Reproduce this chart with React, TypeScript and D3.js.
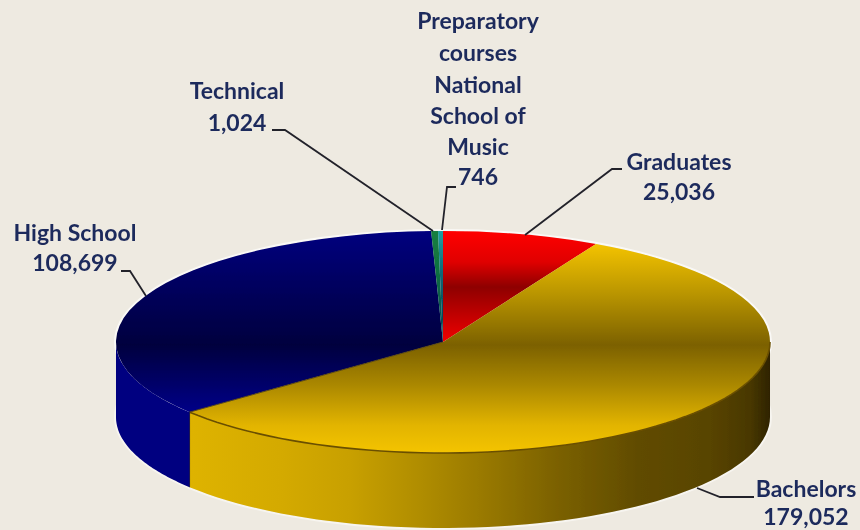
import React from "react";
import * as d3 from "d3";

const categories = ["Graduates", "Bachelors", "High School", "Technical", "Preparatory courses National School of Music"];
const values = [25036, 179052, 108699, 1024, 746];
const tickLabels = ["25,036", "179,052", "108,699", "1,024", "746"];

const W = 860, H = 530, CX = 443, CY = 342, RX = 327, RY = 111, DEPTH = 75;
const INK = "#1d2a5c";
// The reference's 3D tilt foreshortens the angles slightly
const WARP = 0.054;
const warp = (a: number) => a - WARP * Math.sin(a / 2);

const labelLayout = [
  { x: 679, y: [170, 200], lines: ["Graduates", tickLabels[0]], leader: [[525, 235], [612, 169], [622, 169]] },
  { x: 806, y: [497, 525], lines: ["Bachelors", tickLabels[1]], leader: [[697, 488], [720, 497], [754, 497]] },
  { x: 75, y: [241, 271], lines: ["High School", tickLabels[2]], leader: [[146, 296], [130, 271], [121, 271]] },
  { x: 237, y: [99, 131], lines: ["Technical", tickLabels[3]], leader: [[433, 231], [285, 130], [272, 130]] },
  { x: 478, y: [29, 61, 93, 124, 155, 185], lines: ["Preparatory", "courses", "National", "School of", "Music", tickLabels[4]], leader: [[442, 230], [447, 187], [456, 187]] },
];

const faceStops: [number, string][][] = [
  [[231, "#ff0000"], [262, "#e00000"], [287, "#8e0000"], [315, "#c00000"], [342, "#f00000"]],
  [[245, "#f2c200"], [295, "#b89400"], [345, "#7c6100"], [385, "#ab8800"], [425, "#e2b400"], [453, "#f4c400"]],
  [[231, "#00007f"], [290, "#00005c"], [345, "#00003e"], [385, "#00006a"], [420, "#000090"]],
  [[231, "#17803f"], [272, "#0f7040"], [342, "#004058"]],
  [[231, "#20a0a0"], [272, "#0a6a78"], [342, "#003a50"]],
];

const goldWall: [number, string][] = [
  [190, "#deb300"], [280, "#d4aa00"], [350, "#c8a000"], [420, "#b08d00"], [480, "#9a7a00"],
  [560, "#7a6000"], [640, "#604b00"], [710, "#584400"], [750, "#493800"], [770, "#2e2300"],
];

const pieGen = d3.pie<number>().sort(null).startAngle(0).endAngle(2 * Math.PI);
const arcGen = d3.arc<any>().innerRadius(0).outerRadius(RX);

function wallPath(a0: number, a1: number): string | null {
  const lo = Math.max(a0, Math.PI / 2), hi = Math.min(a1, (3 * Math.PI) / 2);
  if (hi <= lo) return null;
  const th = d3.range(0, 61).map((i) => lo + ((hi - lo) * i) / 60);
  const area = d3.area<number>()
    .x((t) => CX + RX * Math.sin(t))
    .y0((t) => CY - RY * Math.cos(t))
    .y1((t) => CY - RY * Math.cos(t) + DEPTH);
  return area(th);
}

function rimLine(a0: number, a1: number): string | null {
  const lo = Math.max(a0, Math.PI / 2), hi = Math.min(a1, (3 * Math.PI) / 2);
  if (hi <= lo) return null;
  const th = d3.range(0, 61).map((i) => lo + ((hi - lo) * i) / 60);
  return d3.line<number>().x((t) => CX + RX * Math.sin(t)).y((t) => CY - RY * Math.cos(t))(th);
}

export default function App() {
  const slices = pieGen(values).map((s) => ({ ...s, startAngle: warp(s.startAngle), endAngle: warp(s.endAngle) }));
  const line = d3.line<number[]>().x((d) => d[0]).y((d) => d[1]);
  const gold = slices[1];
  const rightFront = rimLine(gold.startAngle, gold.endAngle);
  const cutX = CX + RX * Math.sin(gold.endAngle);
  const cutY = CY - RY * Math.cos(gold.endAngle);
  const scaleY = RY / RX;
  return (
    <svg width={W} height={H} viewBox={`0 0 ${W} ${H}`} style={{ position: "absolute", left: 0, top: 0, display: "block" }}>
      <title>{categories.join(", ")}</title>
      <defs>
        <filter id="soft" x="-5%" y="-5%" width="110%" height="110%">
          <feGaussianBlur stdDeviation="0.6" />
        </filter>
        <linearGradient id="goldWall" gradientUnits="userSpaceOnUse" x1={0} x2={W} y1={0} y2={0}>
          {goldWall.map(([x, c]) => <stop key={x} offset={x / W} stopColor={c} />)}
        </linearGradient>
        {slices.map((s, i) => (
          <linearGradient
            key={i}
            id={`face${i}`}
            gradientUnits="userSpaceOnUse"
            gradientTransform={`scale(1,${1 / scaleY}) translate(${-CX},${-CY})`}
            x1={0} x2={0} y1={0} y2={H}
          >
            {faceStops[i].map(([y, c]) => <stop key={y} offset={y / H} stopColor={c} />)}
          </linearGradient>
        ))}
      </defs>
      <rect width={W} height={H} fill="#eeeae1" />
      <g filter="url(#soft)">
        <ellipse cx={CX} cy={CY} rx={RX + 1} ry={RY + 1} fill="none" stroke="#ffffff" strokeWidth={2} opacity={0.7} />
        <ellipse cx={CX} cy={CY + DEPTH} rx={RX + 1} ry={RY + 1} fill="none" stroke="#ffffff" strokeWidth={2} opacity={0.5} />
        {slices.map((s, i) => {
          const d = wallPath(s.startAngle, s.endAngle);
          return d ? <path key={i} d={d} fill={i === 1 ? "url(#goldWall)" : "#000080"} /> : null;
        })}
        {slices.map((s, i) => (
          <path
            key={i}
            d={arcGen(s) as string}
            transform={`translate(${CX},${CY}) scale(1,${scaleY})`}
            fill={`url(#face${i})`}
          />
        ))}
        {rightFront && <path d={rightFront} fill="none" stroke="#6b5000" strokeWidth={1.6} />}
        <path d={`M${CX},${CY}L${cutX},${cutY}`} stroke="#5e4a10" strokeWidth={1} fill="none" />
        <path d={`M${cutX},${cutY}V${cutY + DEPTH}`} stroke="#1a1a50" strokeWidth={1} fill="none" />
        {labelLayout.map((l, i) => (
          <path key={i} d={line(l.leader) as string} fill="none" stroke="#23232b" strokeWidth={1.8} />
        ))}
        {labelLayout.map((l, i) =>
          l.lines.map((t, j) => (
            <text
              key={`${i}-${j}`}
              x={l.x}
              y={l.y[j]}
              textAnchor="middle"
              fontFamily="Lato, 'Noto Sans', sans-serif"
              fontWeight={700}
              fontSize={23}
              fill={INK}
            >
              {t}
            </text>
          ))
        )}
      </g>
    </svg>
  );
}
